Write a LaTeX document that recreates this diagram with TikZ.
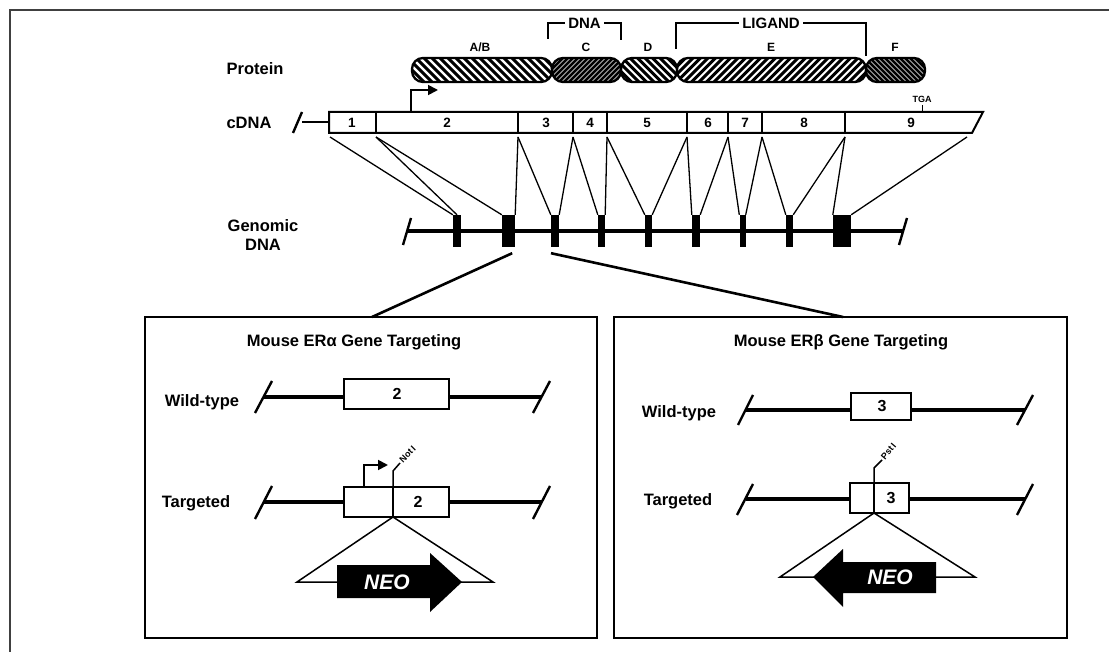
\documentclass[tikz,border=0pt]{standalone}
\usepackage{fontspec}
\setmainfont{Liberation Sans}
\usetikzlibrary{arrows.meta,calc}

\tikzset{
  lbl/.style={font=\fontsize{16.5}{19}\selectfont\bfseries, inner sep=1pt},
  seglbl/.style={font=\fontsize{12}{13}\selectfont\bfseries, inner sep=1pt},
  brk/.style={font=\fontsize{15}{16}\selectfont\bfseries, fill=white, inner sep=3pt},
  num/.style={font=\fontsize{13.5}{14}\selectfont\bfseries, inner sep=0pt},
  boxnum/.style={font=\fontsize{16}{17}\selectfont\bfseries, inner sep=0pt},
  small/.style={font=\fontsize{9}{10}\selectfont\bfseries, inner sep=1pt},
  exon/.style={fill=black, inner sep=0pt, minimum height=32pt},
  conn/.style={line width=1.3pt},
  thickconn/.style={line width=2.6pt},
  dna/.style={line width=3.3pt},
  cut/.style={line width=2.4pt},
  panel/.style={draw, line width=2.5pt, inner sep=0pt},
  geneseg/.style={draw, line width=2pt, fill=white, inner sep=0pt},
  prom/.style={line width=1.8pt, -{Triangle[length=10pt,width=10pt]}},
  site/.style={line width=1.5pt},
  insert/.style={line width=1.5pt, fill=white},
  neotxt/.style={text=white, font=\fontsize{21}{22}\selectfont\bfseries\itshape},
}

% hatched protein domain: x0, x1, direction (+1 = /, -1 = \), spacing, stroke width
\newcommand\domain[5]{%
  \begin{scope}
    \clip[rounded corners=11pt] (#1,58) rectangle (#2,82);
    \foreach \k in {-6,...,46}
      \draw[line width=#5] (#1-10+\k*#4,84) -- ++(#3*28,-28);
  \end{scope}
  \draw[line width=2.3pt, rounded corners=11pt] (#1,58) rectangle (#2,82);
}

\begin{document}
\begin{tikzpicture}[x=1pt,y=-1pt]
\useasboundingbox (0,0) rectangle (1109,652);

% page frame
\draw[black!75, line width=1.8pt] (10,652) -- (10,10) -- (1109,10);

% ---------- protein domains ----------
\domain{412}{552}{-1}{8}{3pt}
\domain{552}{621}{1}{5}{2.6pt}
\domain{621}{677}{-1}{7.5}{3pt}
\domain{677}{866}{1}{7.5}{3pt}
\domain{866}{925}{-1}{5}{2.6pt}

\node[lbl] (protlbl) at (255,69) {Protein};
\node[seglbl] (sAB) at (480,47) {A/B};
\node[seglbl] (sC) at (586,47) {C};
\node[seglbl] (sD) at (648,47) {D};
\node[seglbl] (sE) at (771,47) {E};
\node[seglbl] (sF) at (895,47) {F};

\draw[line width=2pt] (548,39) -- (548,23) -- node[brk] (dnabrk) {DNA} (621,23) -- (621,40);
\draw[line width=2pt] (676,49) -- (676,23) -- node[brk] (ligbrk) {LIGAND} (866,23) -- (866,56);

% ---------- cDNA ----------
\node[lbl] (cdnalbl) at (249,123) {cDNA};
\draw[cut] (293,133) -- (302,112);
\draw[line width=1.5pt] (302,122) -- (329,122);
\draw[line width=2pt, fill=white] (329,112) -- (983,112) -- (972,133) -- (329,133) -- cycle;
\foreach \x in {376,518,573,607,687,728,762,845}
  \draw[line width=2pt] (\x,112) -- (\x,133);
\foreach \x/\n in {352/1,447/2,546/3,590/4,647/5,708/6,745/7,804/8,911/9}
  \node[num] (n\n) at (\x,123) {\n};
\node[small] (tga) at (922,99) {TGA};
\draw[line width=1pt] (922,105) -- (922,112);
\draw[prom] (411,112) |- (438,90);

\foreach \i/\x in {0/330,1/376,2/518,3/573,4/607,5/687,6/728,7/762,8/845,9/967}
  \coordinate (cb\i) at (\x,137);

% ---------- genomic DNA ----------
\node[lbl, align=center] (genlbl) at (263,235) {Genomic\\DNA};
\draw[dna] (407,231) -- (903,231);
\draw[cut] (403,245) -- (411,218);
\draw[cut] (899,245) -- (907,218);
\foreach \i/\x/\w in {1/457/8,2/508.5/13,3/555/8,4/601.5/7,5/648.5/7,6/696/8,7/742.5/6,8/789.5/7,9/842/18}
  \node[exon, minimum width=\w pt] (g\i) at (\x,231) {};

% exon correspondence
\draw[conn] (cb0) -- (g1.north west);
\draw[conn] (cb1) -- (g1.north);
\draw[conn] (cb1) -- (g2.north west);
\draw[conn] (cb2) -- (g2.north east);
\draw[conn] (cb2) -- (g3.north west);
\draw[conn] (cb3) -- (g3.north east);
\draw[conn] (cb3) -- (g4.north west);
\draw[conn] (cb4) -- (g4.north east);
\draw[conn] (cb4) -- (g5.north west);
\draw[conn] (cb5) -- (g5.north east);
\draw[conn] (cb5) -- (g6.north west);
\draw[conn] (cb6) -- (g6.north east);
\draw[conn] (cb6) -- (g7.north west);
\draw[conn] (cb7) -- (g7.north east);
\draw[conn] (cb7) -- (g8.north west);
\draw[conn] (cb8) -- (g8.north east);
\draw[conn] (cb8) -- (g9.north west);
\draw[conn] (cb9) -- (g9.north east);

% ---------- targeting panels ----------
\node[panel, minimum width=452pt, minimum height=321pt] (pa) at (371,477.5) {};
\node[panel, minimum width=453pt, minimum height=321pt] (pb) at (840.5,477.5) {};
\coordinate (pain) at (372,317);
\coordinate (pbin) at (843,317);
\draw[thickconn] ($(g2.south east)+(-3,6)$) -- (pain);
\draw[thickconn] ($(g3.south)+(-4,6)$) -- (pbin);

% ER alpha
\node[lbl] (ta) at (354,342) {Mouse ERα Gene Targeting};
\node[lbl] (wta) at (202,402) {Wild-type};
\draw[dna] (264,397) -- (542,397);
\draw[cut] (255,413) -- (272,381);
\draw[cut] (533,413) -- (550,381);
\node[geneseg, minimum width=105pt, minimum height=30pt] (wa) at (396.5,394) {};
\node[boxnum] (wa2) at (397,394) {2};

\node[lbl] (tga2) at (196,503) {Targeted};
\draw[dna] (264,502) -- (542,502);
\draw[cut] (255,519) -- (272,486);
\draw[cut] (533,519) -- (550,486);
\node[geneseg, minimum width=105pt, minimum height=30pt] (ka) at (396.5,502) {};
\draw[line width=1.8pt] (393,487) -- (393,517);
\node[boxnum] (ka2) at (418,502) {2};
\draw[prom] (364,487) |- (388,465);
\draw[site] (393,487) -- (393,471) -- (400,463);
\node[small, rotate=45, anchor=west] (noti) at (400,462) {Not\,I};

\draw[insert] (393,517) -- (297,582) -- (493,582) -- cycle;
\fill (337,565) -- (430,565) -- (430,553) -- (462,582) -- (430,612) -- (430,598) -- (337,598) -- cycle;
\node[neotxt] (neoa) at (387,582) {NEO};

% ER beta
\node[lbl] (tb) at (841,342) {Mouse ERβ Gene Targeting};
\node[lbl] (wtb) at (679,413) {Wild-type};
\draw[dna] (746,410) -- (1025,410);
\draw[cut] (738,425) -- (753,395);
\draw[cut] (1017,425) -- (1033,395);
\node[geneseg, minimum width=60pt, minimum height=27pt] (wb) at (881,406.5) {};
\node[boxnum] (wb3) at (882,406) {3};

\node[lbl] (tgb) at (678,501) {Targeted};
\draw[dna] (746,499) -- (1025,499);
\draw[cut] (737,515) -- (753,484);
\draw[cut] (1017,515) -- (1033,484);
\node[geneseg, minimum width=59pt, minimum height=30pt] (kb) at (879.5,498) {};
\draw[line width=1.8pt] (874,483) -- (874,513);
\node[boxnum] (kb3) at (891,498) {3};
\draw[site] (874,483) -- (874,468) -- (882,460);
\node[small, rotate=50, anchor=west] (psti) at (882,459) {Pst\,I};

\draw[insert] (874,513) -- (780,577) -- (975,577) -- cycle;
\fill (813,577) -- (843,549) -- (843,562) -- (936,562) -- (936,593) -- (843,593) -- (843,607) -- cycle;
\node[neotxt] (neob) at (890,577) {NEO};
\end{tikzpicture}
\end{document}
